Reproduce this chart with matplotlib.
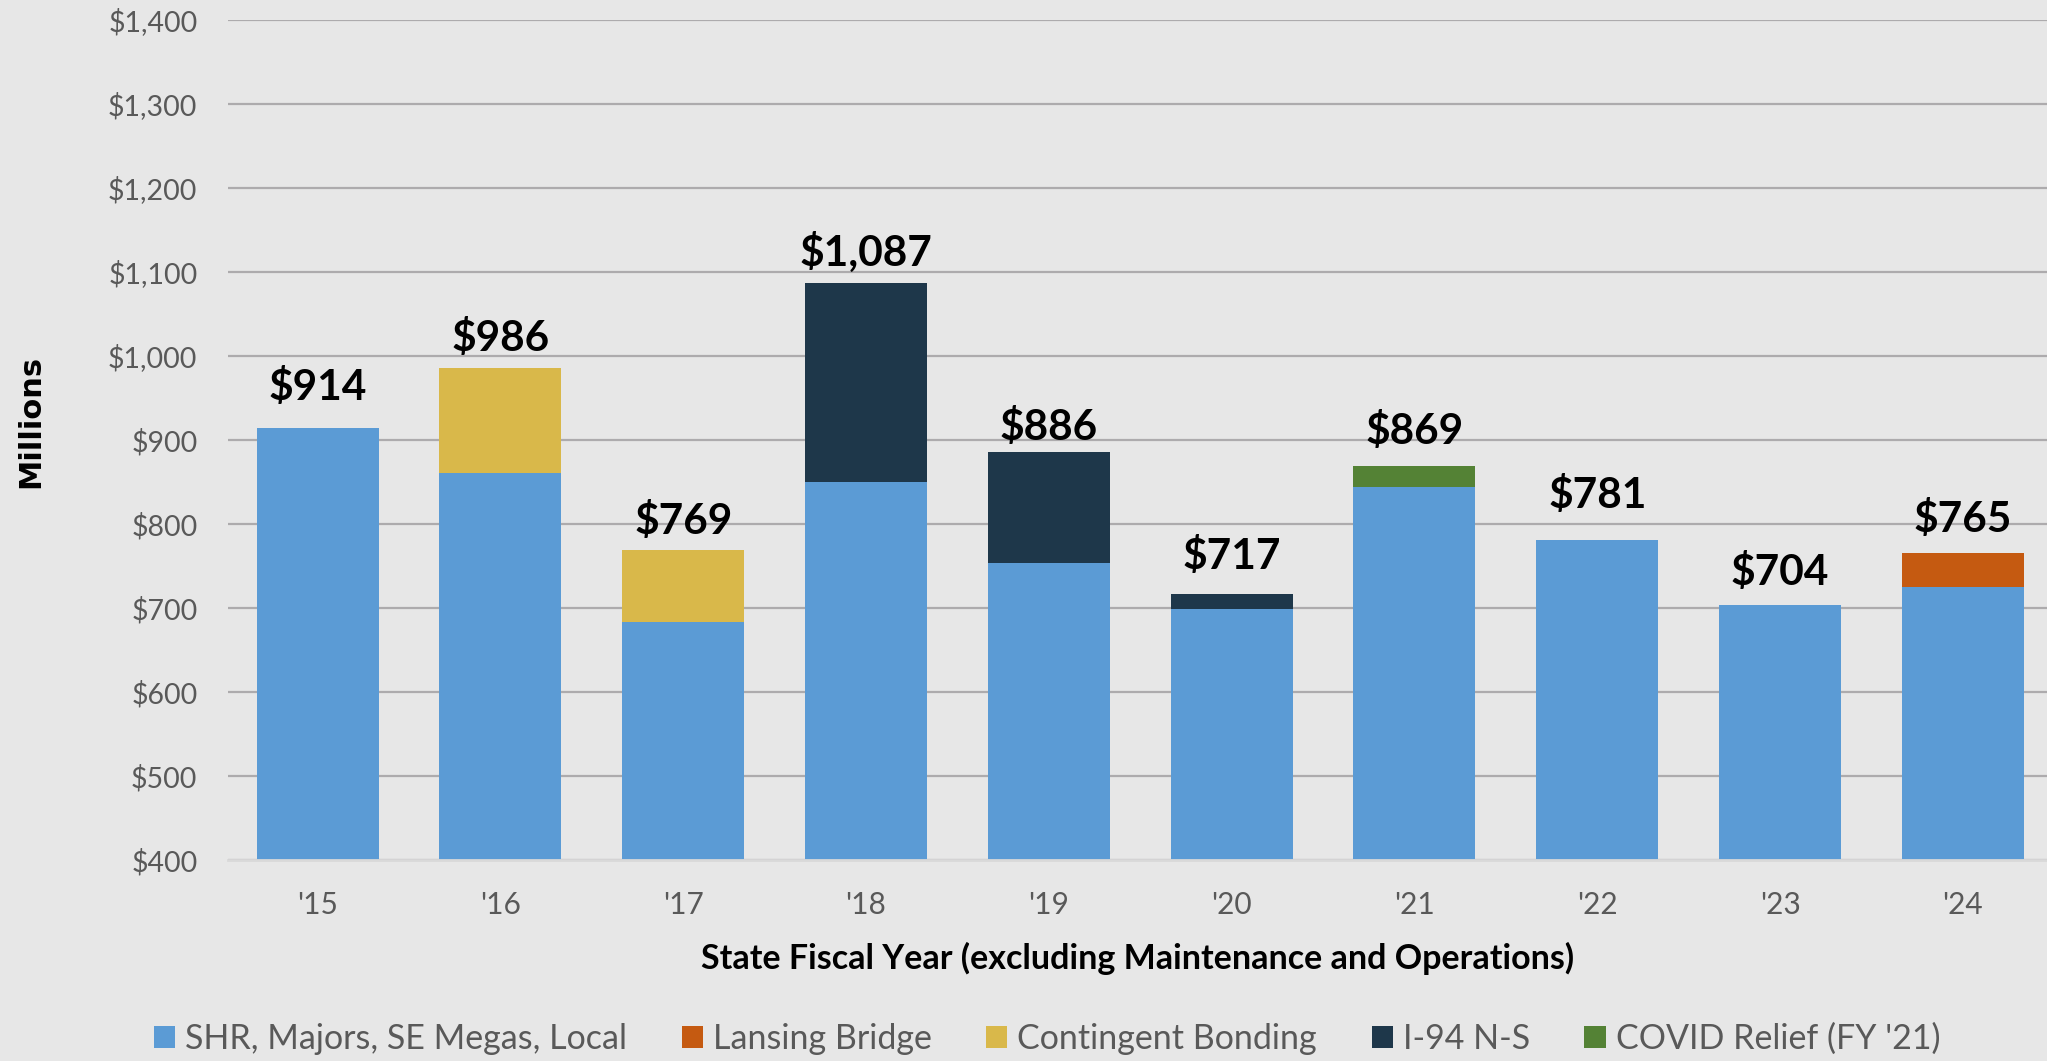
import matplotlib
matplotlib.use("Agg")
import matplotlib.pyplot as plt
from matplotlib.patches import Patch
import numpy as np

# data (millions of dollars)
years = ["'15", "'16", "'17", "'18", "'19", "'20", "'21", "'22", "'23", "'24"]
shr_local = [914, 861, 683, 850, 754, 699, 844, 781, 704, 725]
lansing_bridge = [0, 0, 0, 0, 0, 0, 0, 0, 0, 40]
contingent = [0, 125, 86, 0, 0, 0, 0, 0, 0, 0]
i94 = [0, 0, 0, 237, 132, 18, 0, 0, 0, 0]
covid = [0, 0, 0, 0, 0, 0, 25, 0, 0, 0]
totals = [914, 986, 769, 1087, 886, 717, 869, 781, 704, 765]

series_names = ["SHR, Majors, SE Megas, Local", "Lansing Bridge",
                "Contingent Bonding", "I-94 N-S", "COVID Relief (FY '21)"]
series_colors = ["#5B9BD5", "#C55A11", "#D9B84A", "#1E374A", "#548235"]

# gap (px) between bar top and label baseline, as placed in the original
label_gap = [28, 17, 16, 17, 12, 25, 22, 32, 20, 21]

plt.rcParams['font.family'] = ['Lato', 'DejaVu Sans']

bg = "#E7E7E7"
fig = plt.figure(figsize=(20.47, 10.61), dpi=100, facecolor=bg)
ax = fig.add_axes([228 / 2047, 1 - 860 / 1061, 1 - 228 / 2047, 840 / 1061])
ax.set_facecolor(bg)

x = np.arange(len(years))
w = 0.667
bottom = np.zeros(len(years))
# stacking order: base first, then the extras on top
for vals, col in [(shr_local, series_colors[0]), (contingent, series_colors[2]),
                  (i94, series_colors[3]), (covid, series_colors[4]),
                  (lansing_bridge, series_colors[1])]:
    v = np.array(vals, dtype=float)
    ax.bar(x, v, w, bottom=bottom, color=col, zorder=3)
    bottom += v

ax.set_ylim(400, 1400)
ax.set_xlim(-0.49, 9.46)
ax.set_yticks(np.arange(400, 1401, 100))
ax.set_yticklabels(["${:,}".format(v) for v in range(400, 1401, 100)])
ax.set_xticks(x)
ax.set_xticklabels(years)

ax.grid(axis='y', color="#ADABAD", linewidth=1.6, zorder=0)
for s in ['top', 'right', 'left']:
    ax.spines[s].set_visible(False)
ax.spines['bottom'].set_color("#D9D9D9")
ax.spines['bottom'].set_linewidth(2)
ax.spines['bottom'].set_zorder(4)
ax.tick_params(axis='y', length=0, pad=22, labelsize=20.5, labelcolor="#595959")
ax.tick_params(axis='x', length=0, pad=22, labelsize=21.5, labelcolor="#595959")

# total labels
for i, t in enumerate(totals):
    ax.annotate("${:,}".format(t), (i, t), xytext=(0, label_gap[i] * 0.72),
                textcoords='offset points', ha='center', va='baseline',
                fontsize=30.5, fontweight='bold', color='black', zorder=5)

ax.set_xlabel("State Fiscal Year (excluding Maintenance and Operations)",
              fontsize=24.5, fontweight='bold', labelpad=17)
fig.text(31 / 2047, 1 - 421 / 1061, "Millions", rotation=90, ha='center', va='center',
         fontsize=22, fontweight='bold', family='DejaVu Sans')

handles = [Patch(facecolor=c, edgecolor='none') for c in series_colors]
fig.legend(handles, series_names, loc='center', bbox_to_anchor=(1047 / 2047, 1 - 1039 / 1061),
           ncol=5, frameon=False, fontsize=24.5, labelcolor="#595959",
           handlelength=0.62, handleheight=0.62, handletextpad=0.3, columnspacing=1.6)

fig.savefig("out.png", dpi=100, facecolor=bg)
